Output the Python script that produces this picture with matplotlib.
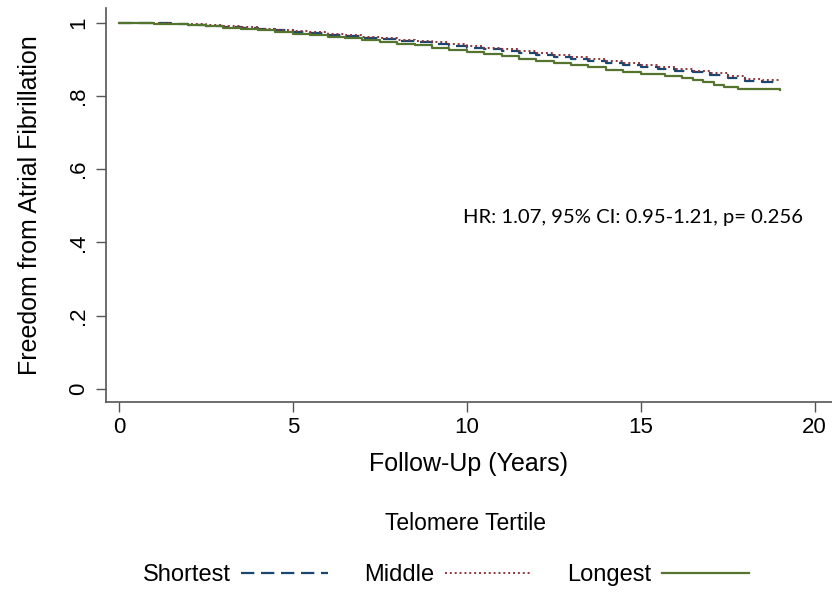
import numpy as np
from matplotlib import pyplot as plt
from matplotlib.lines import Line2D

# Kaplan-Meier estimates (step times in years)
t_shortest = [0, 1, 1.5, 2, 2.5, 3, 3.5, 4, 4.5, 5, 5.5, 6, 6.5, 7, 7.5, 8, 8.5, 9, 9.5,
              10, 10.5, 11, 11.5, 12, 12.5, 13, 13.5, 14, 14.5, 15, 15.5, 16, 16.5,
              17, 17.5, 18, 18.5, 19]
s_shortest = [1.0, 0.998, 0.996, 0.994, 0.991, 0.988, 0.985, 0.982, 0.979, 0.975, 0.971,
              0.967, 0.963, 0.959, 0.955, 0.951, 0.947, 0.942, 0.937, 0.932, 0.927,
              0.922, 0.917, 0.912, 0.907, 0.901, 0.896, 0.890, 0.884, 0.878, 0.874,
              0.869, 0.864, 0.857, 0.848, 0.841, 0.839, 0.838]

t_middle = [0, 1, 1.5, 2, 2.5, 3, 3.5, 4, 4.5, 5, 5.5, 6, 6.5, 7, 7.5, 8, 8.5, 9, 9.5,
            10, 10.5, 11, 11.5, 12, 12.5, 13, 13.5, 14, 14.5, 15, 15.5, 16, 16.5,
            17, 17.5, 18, 18.5, 19]
s_middle = [1.0, 0.998, 0.997, 0.995, 0.993, 0.990, 0.987, 0.984, 0.981, 0.977, 0.974,
            0.970, 0.966, 0.962, 0.958, 0.954, 0.950, 0.946, 0.942, 0.937, 0.932,
            0.927, 0.922, 0.917, 0.912, 0.906, 0.901, 0.895, 0.890, 0.884, 0.879,
            0.874, 0.869, 0.863, 0.854, 0.846, 0.843, 0.842]

t_longest = [0, 1, 1.5, 2, 2.5, 3, 3.5, 4, 4.5, 5, 5.5, 6, 6.5, 7, 7.5, 8, 8.5, 9, 9.5,
             10, 10.5, 11, 11.5, 12, 12.5, 13, 13.5, 14, 14.5, 15, 15.7, 16.2, 16.5,
             16.8, 17.1, 17.4, 17.8, 19]
s_longest = [1.0, 0.997, 0.995, 0.993, 0.990, 0.986, 0.983, 0.979, 0.975, 0.970, 0.966,
             0.961, 0.957, 0.952, 0.948, 0.943, 0.938, 0.932, 0.926, 0.920, 0.914,
             0.908, 0.902, 0.896, 0.890, 0.884, 0.878, 0.872, 0.866, 0.860, 0.855,
             0.849, 0.843, 0.837, 0.831, 0.825, 0.818, 0.816]

x_ticks = [0, 5, 10, 15, 20]
y_ticks = [0, 0.2, 0.4, 0.6, 0.8, 1.0]
y_ticklabels = ['0', '.2', '.4', '.6', '.8', '1']

stat_text = 'HR: 1.07, 95% CI: 0.95-1.21, p= 0.256'

c_short = '#1a476f'
c_mid = '#90353b'
c_long = '#55752f'
axis_gray = '#555555'


def main():
    plt.rcParams['font.family'] = ['Liberation Sans', 'DejaVu Sans']

    fig = plt.figure(figsize=(8.32, 5.93), dpi=100)
    ax = fig.add_axes([0.1274, 0.3221, 0.8726, 0.6644])

    ax.plot(t_shortest, s_shortest, drawstyle='steps-post', color=c_short,
            lw=1.6, dashes=(6, 3))
    ax.plot(t_middle, s_middle, drawstyle='steps-post', color=c_mid,
            lw=1.4, dashes=(1, 1.5))
    ax.plot(t_longest, s_longest, drawstyle='steps-post', color=c_long, lw=1.6)

    ax.set_xlim(-0.37, 20.5)
    ax.set_ylim(-0.0355, 1.040)
    ax.set_xticks(x_ticks)
    ax.set_yticks(y_ticks)
    ax.set_yticklabels(y_ticklabels, rotation=90, va='center')

    for side in ['top', 'right']:
        ax.spines[side].set_visible(False)
    for side in ['left', 'bottom']:
        ax.spines[side].set_color(axis_gray)
        ax.spines[side].set_linewidth(1.2)
    ax.tick_params(axis='both', colors=axis_gray, labelcolor='black',
                   length=7, width=1.0, labelsize=16)
    ax.tick_params(axis='y', pad=5)
    ax.tick_params(axis='x', pad=4)

    ax.set_xlabel('Follow-Up (Years)', fontsize=18, labelpad=10)
    ax.set_ylabel('Freedom from Atrial Fibrillation', fontsize=18, labelpad=19)

    ax.text(9.9, 0.468, stat_text, fontsize=14.6, family='Lato',
            ha='left', va='center')

    fig.text(0.559, 0.118, 'Telomere Tertile', fontsize=16.5, ha='center', va='center')

    handles = [
        Line2D([], [], color=c_short, lw=1.6, dashes=(6, 3)),
        Line2D([], [], color=c_mid, lw=1.4, dashes=(1, 1.5)),
        Line2D([], [], color=c_long, lw=1.6),
    ]
    fig.legend(handles, ['Shortest', 'Middle', 'Longest'], ncol=3, frameon=False,
               markerfirst=False, fontsize=17, handlelength=3.7, handletextpad=0.45,
               columnspacing=1.5, loc='center', bbox_to_anchor=(0.536, 0.030))

    fig.savefig('out.png', dpi=100)


if __name__ == "__main__":
    main()
